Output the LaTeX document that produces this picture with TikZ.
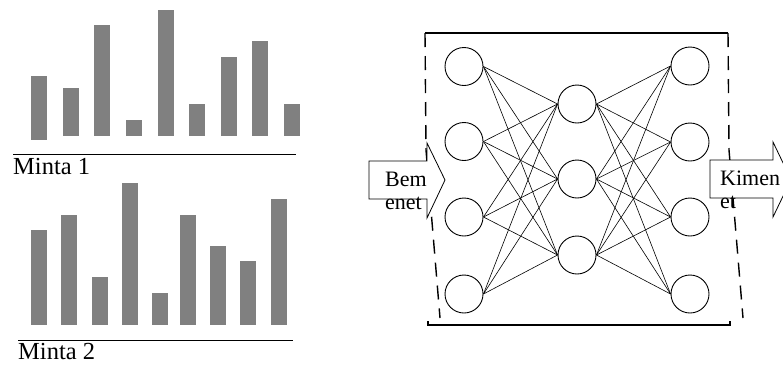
\documentclass[tikz,border=0pt]{standalone}
\usepackage{fontspec}
\setmainfont{Liberation Serif}
\definecolor{barcol}{HTML}{808080}
\begin{document}
\begin{tikzpicture}[x=1pt,y=-1pt,
  bar/.style={fill=barcol, draw=none},
  neuron/.style={circle, draw, line width=0.9pt, minimum size=38pt, inner sep=0pt},
  link/.style={line width=0.6pt},
  frameline/.style={line width=1.4pt},
  dashframe/.style={line width=1.4pt, dash pattern=on 14pt off 9pt},
  bigarrow/.style={draw, fill=white, line width=0.8pt},
  axisline/.style={line width=0.9pt},
  lbl/.style={font=\fontsize{22}{24}\selectfont, inner sep=0pt, anchor=base west},
  mlbl/.style={font=\fontsize{24.5}{26}\selectfont, inner sep=0pt, anchor=base west}]
\clip (0,0) rectangle (783,365);
\useasboundingbox (0,0) rectangle (783,365);

% ---- Minta 1 bars
\foreach \x/\t/\b in {31/76/140, 63/88/136, 94/25/136, 126/120/136, 158/10/136,
                      189/104/136, 221/57/136, 252/41/136, 284/104/136}
  \fill[bar] (\x,\t) rectangle (\x+16,\b);
\draw[axisline] (13,154) coordinate (m1a) -- (296,154) coordinate (m1b);
\node[mlbl] (m1) at (13,174) {Minta 1};

% ---- Minta 2 bars
\foreach \x/\t in {31/230, 61/215, 92/277, 122/183, 152/293,
                   180/215, 210/246, 240/261, 271/199}
  \fill[bar] (\x,\t) rectangle (\x+16,325);
\draw[axisline] (18,340) coordinate (m2a) -- (293,340) coordinate (m2b);
\node[mlbl] (m2) at (18,359) {Minta 2};

% ---- frame
\draw[frameline] (425,33) -- (728,33);
\draw[dashframe] (425,33) -- (426,150) -- (440,318);
\draw[dashframe] (728,33) -- (729,150) -- (743,318);
\draw[frameline] (428,321) -- (428,325) -- (730,325) -- (730,321);

% ---- neurons
\node[neuron] (i1) at (464,66.5) {};
\node[neuron] (i2) at (464,141.5) {};
\node[neuron] (i3) at (464,217) {};
\node[neuron] (i4) at (464,294) {};
\node[neuron] (h1) at (577,104) {};
\node[neuron] (h2) at (577,179) {};
\node[neuron] (h3) at (577,255) {};
\node[neuron] (o1) at (690,66) {};
\node[neuron] (o2) at (690,142) {};
\node[neuron] (o3) at (690,217) {};
\node[neuron] (o4) at (690,294) {};

\foreach \i in {1,...,4}
  \foreach \h in {1,2,3}
    \draw[link] (i\i.east) -- (h\h.west);
\foreach \h in {1,2,3}
  \foreach \o in {1,...,4}
    \draw[link] (h\h.east) -- (o\o.west);

% ---- input arrow
\draw[bigarrow] (369,161) -- (427,161) -- (427,143) -- (445,180)
   -- (427,218) -- (427,199) -- (369,199) -- cycle;
\node[lbl] (in1) at (385,186) {Bem};
\node[lbl] (in2) at (385,209) {enet};

% ---- output arrow
\draw[bigarrow] (710,160) -- (773,160) -- (773,142) -- (791,179.5)
   -- (773,217) -- (773,198) -- (710,198) -- cycle;
\node[lbl] (out1) at (720,185) {Kimen};
\node[lbl] (out2) at (720,208) {et};
\end{tikzpicture}
\end{document}
